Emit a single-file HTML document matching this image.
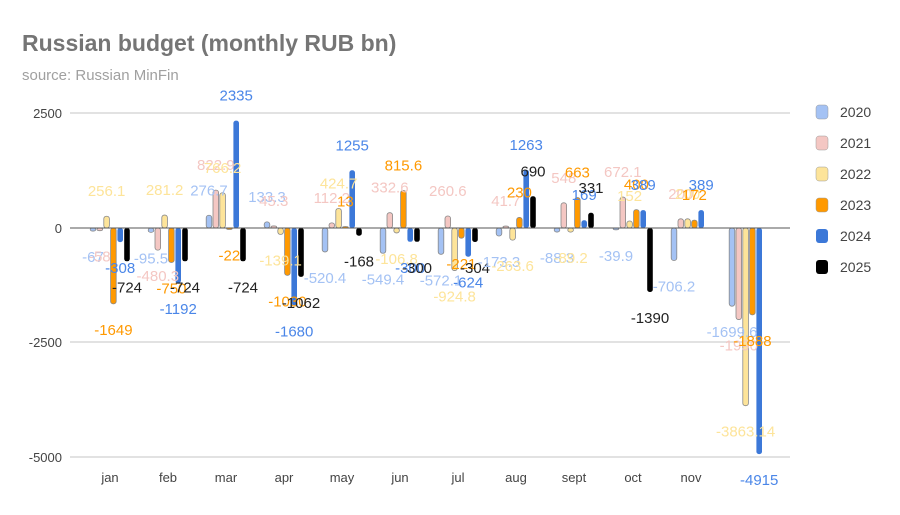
<!DOCTYPE html>
<html><head><meta charset="utf-8"><style>
body{margin:0;background:#fff;font-family:"Liberation Sans",Arial,sans-serif}
</style></head><body>
<svg id="s" width="900" height="510" xmlns="http://www.w3.org/2000/svg" font-family="Liberation Sans, Arial, sans-serif">
<rect width="900" height="510" fill="#fff"/>
<text x="22" y="51" font-size="23" font-weight="bold" fill="#757575">Russian budget (monthly RUB bn)</text>
<text x="22" y="80" font-size="15" fill="#a0a0a0">source: Russian MinFin</text>
<g stroke="#d9d9d9" stroke-width="1.5">
<line x1="70" y1="113" x2="790" y2="113"/>
<line x1="70" y1="342" x2="790" y2="342"/>
<line x1="70" y1="457" x2="790" y2="457"/>
</g>
<g font-size="13" fill="#444" text-anchor="end">
<text x="62" y="118">2500</text><text x="62" y="233">0</text>
<text x="62" y="347">-2500</text><text x="62" y="462">-5000</text>
</g>
<g font-size="13" fill="#444" text-anchor="middle">
<text x="110" y="482">jan</text><text x="168" y="482">feb</text><text x="226" y="482">mar</text>
<text x="284" y="482">apr</text><text x="342" y="482">may</text><text x="400" y="482">jun</text>
<text x="458" y="482">jul</text><text x="516" y="482">aug</text><text x="574" y="482">sept</text>
<text x="633" y="482">oct</text><text x="691" y="482">nov</text>
</g>
<g id="bars"></g>
<line x1="70" y1="228" x2="790" y2="228" stroke="#555" stroke-width="1"/>
<g id="labs" font-size="15" text-anchor="middle"></g>
<g font-size="14" fill="#444">
<rect x="816" y="105" width="12" height="14" rx="3" fill="#a4c2f4" stroke="#999" stroke-width="0.5"/><text x="840" y="117">2020</text>
<rect x="816" y="136" width="12" height="14" rx="3" fill="#f4c7c3" stroke="#999" stroke-width="0.5"/><text x="840" y="148">2021</text>
<rect x="816" y="167" width="12" height="14" rx="3" fill="#fde49a" stroke="#999" stroke-width="0.5"/><text x="840" y="179">2022</text>
<rect x="816" y="198" width="12" height="14" rx="3" fill="#ff9900" stroke="#999" stroke-width="0.5"/><text x="840" y="210">2023</text>
<rect x="816" y="229" width="12" height="14" rx="3" fill="#3c78d8"/><text x="840" y="241">2024</text>
<rect x="816" y="260" width="12" height="14" rx="3" fill="#000"/><text x="840" y="272">2025</text>
</g>
</svg>
<script>
var data=[
[-67,-58,256.1,-1649,-308,-724],
[-95.5,-480.3,281.2,-750,-1192,-724],
[276.7,822.9,766.2,-22,2335,-724],
[133.3,45.3,-139.1,-1030,-1680,-1062],
[-520.4,112.2,424.7,13,1255,-168],
[-549.4,332.6,-106.8,815.6,-300,-300],
[-572.1,260.6,-924.8,-221,-624,-304],
[-173.3,41.7,-263.6,230,1263,690],
[-88.3,548,-89.2,663,169,331],
[-39.9,672.1,152,400,389,-1390],
[-706.2,200,200,172,389,null],
[-1699.6,-1990,-3863.14,-1888,-4915,null]];
var fill=["#a4c2f4","#f4c7c3","#fde49a","#ff9900","#3c78d8","#000"];
var lc=["#a4c2f4","#f4c7c3","#fde49a","#ff9900","#4a86e8","#222"];
var centers=[110,168,226,284,342,400,458,516,574,633,691,749];
var ns="http://www.w3.org/2000/svg",B=document.getElementById("bars"),L=document.getElementById("labs");
var k=0.046;
data.forEach(function(r,m){r.forEach(function(v,i){if(v===null)return;
var x=centers[m]-17+i*6.8;var h=Math.max(Math.abs(v)*k,1.5);var y=v>=0?228-h:228;
var e=document.createElementNS(ns,"rect");e.setAttribute("x",x-2.8);e.setAttribute("y",y);e.setAttribute("width",5.6);e.setAttribute("height",h);e.setAttribute("rx",2.5);e.setAttribute("fill",fill[i]);
if(i<4){e.setAttribute("stroke","#888");e.setAttribute("stroke-width","0.8");}
B.appendChild(e);
var t=document.createElementNS(ns,"text");t.setAttribute("x",x);t.setAttribute("y",v>=0?228-h-20:228+h+31);t.setAttribute("fill",lc[i]);
t.textContent=String(v);L.appendChild(t);});});
</script>
</body></html>
